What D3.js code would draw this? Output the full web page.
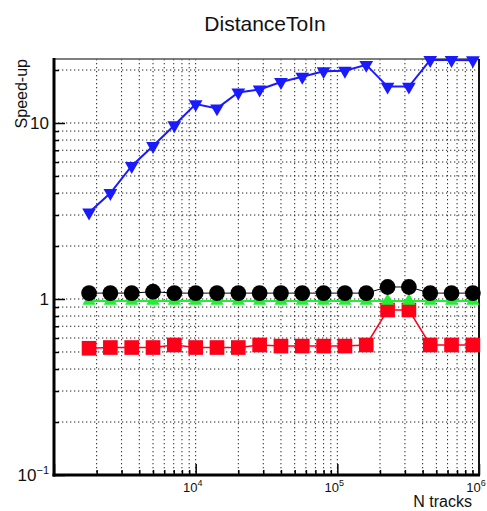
<!DOCTYPE html>
<html>
<head>
<meta charset="utf-8">
<script src="https://cdn.jsdelivr.net/npm/d3@7"></script>
<style>
  body { margin: 0; background: #fff; }
  text { font-family: "Liberation Sans", Arial, Helvetica, sans-serif; fill: #111; }
</style>
</head>
<body>
<svg id="chart"></svg>
<script>
// N tracks (x)
const nTracks = [1768, 2500, 3536, 5000, 7071, 10000, 14142, 20000, 28284, 40000,
                 56569, 80000, 113137, 160000, 226274, 320000, 452548, 640000, 905097];
// speed-up series
const speedBlue  = [3.1, 4.0, 5.7, 7.4, 9.7, 12.8, 12.1, 14.9, 15.5, 17.1,
                    18.3, 19.7, 19.8, 21.4, 16.1, 16.1, 22.8, 22.8, 22.7];
const speedBlack = [1.08, 1.08, 1.08, 1.10, 1.08, 1.08, 1.08, 1.08, 1.08, 1.08,
                    1.08, 1.08, 1.08, 1.08, 1.17, 1.17, 1.08, 1.08, 1.08];
const speedGreen = [0.975, 0.975, 0.975, 0.975, 0.975, 0.975, 0.975, 0.975, 0.975, 0.975,
                    0.975, 0.975, 0.975, 0.975, 0.975, 0.975, 0.975, 0.975, 0.975];
const speedRed   = [0.525, 0.53, 0.53, 0.53, 0.548, 0.53, 0.53, 0.53, 0.548, 0.54,
                    0.54, 0.54, 0.54, 0.548, 0.866, 0.866, 0.548, 0.548, 0.548];

const xLabels = [[1e4, "10", "4"], [1e5, "10", "5"], [1e6, "10", "6"]];
const yLabels = [[0.1, "10", "\u22121"], [1, "1", ""], [10, "10", ""]];

const width = 487, height = 511;
const pLeft = 54, pRight = 479, pTop = 59, pBottom = 475;

const svg = d3.select("#chart")
              .attr("width", width)
              .attr("height", height);

const x = d3.scaleLog([1000, 1e6], [pLeft, pRight]);
const y = d3.scaleLog([0.1, 23.1], [pBottom, pTop]);

const xTicks = x.ticks();
const yTicks = y.ticks().filter(v => v <= 23.1);

// dotted grid
let grid = svg.append("g")
              .attr("stroke", "#222")
              .attr("stroke-width", 1)
              .attr("stroke-dasharray", "1.3,2.7");
grid.selectAll(".gx")
    .data(xTicks.filter(v => v > 1000 && v < 1e6))
    .join("line")
    .attr("x1", d => x(d)).attr("x2", d => x(d))
    .attr("y1", pTop).attr("y2", pBottom);
grid.selectAll(".gy")
    .data(yTicks.filter(v => v > 0.1))
    .join("line")
    .attr("y1", d => y(d)).attr("y2", d => y(d))
    .attr("x1", pLeft).attr("x2", pRight);

// inner ticks
let isMajor = v => Math.abs(Math.log10(v) - Math.round(Math.log10(v))) < 1e-6;

let axB = svg.append("g")
             .attr("transform", `translate(0,${pBottom})`)
             .call(d3.axisBottom(x).tickValues(xTicks).tickSizeInner(0).tickSizeOuter(0).tickFormat(""));
axB.select(".domain").remove();
axB.selectAll(".tick line")
   .attr("y2", d => isMajor(d) ? -11 : -5)
   .attr("stroke", "#000").attr("stroke-width", 1.5);

let axL = svg.append("g")
             .attr("transform", `translate(${pLeft},0)`)
             .call(d3.axisLeft(y).tickValues(yTicks).tickSizeInner(0).tickSizeOuter(0).tickFormat(""));
axL.select(".domain").remove();
axL.selectAll(".tick line")
   .attr("x2", d => isMajor(d) ? 11 : 5)
   .attr("stroke", "#000").attr("stroke-width", 1.5);

// frame
svg.append("line").attr("x1", pLeft).attr("x2", pRight).attr("y1", pTop).attr("y2", pTop)
   .attr("stroke", "#555").attr("stroke-width", 1.5);
svg.append("line").attr("x1", pRight).attr("x2", pRight).attr("y1", pTop).attr("y2", pBottom)
   .attr("stroke", "#111").attr("stroke-width", 2);
svg.append("line").attr("x1", pLeft).attr("x2", pLeft).attr("y1", pTop - 1).attr("y2", pBottom + 1.5)
   .attr("stroke", "#000").attr("stroke-width", 3);
svg.append("line").attr("x1", pLeft - 1.5).attr("x2", pRight + 1).attr("y1", pBottom).attr("y2", pBottom)
   .attr("stroke", "#000").attr("stroke-width", 3);

// tick labels
let xl = svg.append("g").selectAll("text")
            .data(xLabels)
            .join("text")
            .attr("x", d => x(d[0]) - 3)
            .attr("y", pBottom + 17)
            .attr("text-anchor", "middle")
            .style("font-size", "13px");
xl.append("tspan").text(d => d[1]);
xl.append("tspan").attr("dy", -6).style("font-size", "9px").text(d => d[2]);

let yl = svg.append("g").selectAll("text")
            .data(yLabels)
            .join("text")
            .attr("x", 49)
            .attr("y", d => y(d[0]) + 6)
            .attr("text-anchor", "end")
            .style("font-size", "17px");
yl.append("tspan").text(d => d[1]);
yl.append("tspan").attr("dy", -7).style("font-size", "11px").text(d => d[2]);

// titles
svg.append("text")
   .attr("x", 265).attr("y", 31)
   .attr("text-anchor", "middle")
   .style("font-size", "21px")
   .text("DistanceToIn");

svg.append("text")
   .attr("transform", `translate(27,${pTop}) rotate(-90)`)
   .attr("text-anchor", "end")
   .style("font-size", "16px")
   .text("Speed-up");

svg.append("text")
   .attr("x", pRight - 7).attr("y", 507)
   .attr("text-anchor", "end")
   .style("font-size", "16px")
   .text("N tracks");

// series
let line = d3.line((d, i) => x(nTracks[i]), d => y(d));

function drawSeries(vals, color, lw, shape, size) {
	let g = svg.append("g");
	g.append("path")
	 .datum(vals)
	 .attr("fill", "none")
	 .attr("stroke", color)
	 .attr("stroke-width", lw)
	 .attr("d", line);
	g.selectAll("path.m")
	 .data(vals)
	 .join("path")
	 .attr("class", "m")
	 .attr("fill", color)
	 .attr("transform", (d, i) => `translate(${x(nTracks[i])},${y(d)})` + (shape === "down" ? " rotate(180)" : ""))
	 .attr("d", d3.symbol(shape === "down" || shape === "up" ? d3.symbolTriangle2 : shape, size)());
}

drawSeries(speedRed, "#ff0019", 1.5, d3.symbolSquare, 215);
drawSeries(speedGreen, "#22ee33", 2, "up", 125);
drawSeries(speedBlack, "#000", 1, d3.symbolCircle, 195);
drawSeries(speedBlue, "#1a1aff", 2, "down", 135);
</script>
</body>
</html>
